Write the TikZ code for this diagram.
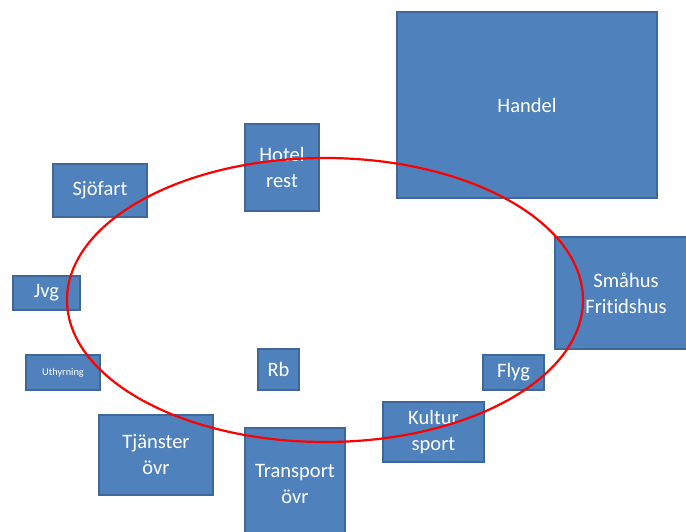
\documentclass[tikz,border=0pt]{standalone}
\usepackage{fontspec}
\setmainfont[Ligatures={NoCommon}]{Carlito}
\definecolor{boxfill}{HTML}{4F81BD}
\definecolor{boxline}{HTML}{41679A}
\definecolor{ringred}{HTML}{FF0000}
\tikzset{
  box/.style={rectangle, fill=boxfill, draw=boxline, line width=1.5pt,
    inner sep=0pt, outer sep=0pt, text=white, align=center,
    font=\fontsize{20.5}{26}\selectfont},
  smallbox/.style={box, font=\fontsize{10.3}{12}\selectfont},
  ring/.style={draw=ringred, line width=2.2pt}
}
\begin{document}
\begin{tikzpicture}[x=1pt,y=-1pt]
\useasboundingbox (0,0) rectangle (686,531);
\fill[white] (0,0) rectangle (686,531);
\node[box, minimum width=260pt, minimum height=186pt] (handel) at (527,105) {Handel};
\node[box, minimum width=74pt, minimum height=87pt] (hotel) at (282,167.5) {Hotel\\rest};
\node[box, minimum width=94pt, minimum height=53pt] (sjofart) at (100,190.5) {\raisebox{-1.5pt}{Sjöfart}};
\node[box, minimum width=67pt, minimum height=34pt] (jvg) at (46.5,293) {Jvg};
\node[smallbox, minimum width=74pt, minimum height=35pt] (uthyrning) at (63,372.5) {Uthyrning};
\node[box, minimum width=41pt, minimum height=41pt] (rb) at (278.5,369.5) {Rb};
\node[box, minimum width=114pt, minimum height=80pt] (tjanster) at (156,455) {Tjänster\\övr};
\node[box, minimum width=100pt, minimum height=111pt] (transport) at (295,483.5) {Transport\\övr};
\node[box, minimum width=101pt, minimum height=60pt] (kultur) at (433.5,432) {Kultur\\sport};
\node[box, minimum width=61pt, minimum height=35pt] (flyg) at (513.5,372.5) {Flyg};
\node[box, minimum width=142pt, minimum height=112pt] (smahus) at (626,293) {Småhus\\Fritidshus};
\draw[ring] (325,300) ellipse [x radius=258pt, y radius=142pt];
\end{tikzpicture}
\end{document}
